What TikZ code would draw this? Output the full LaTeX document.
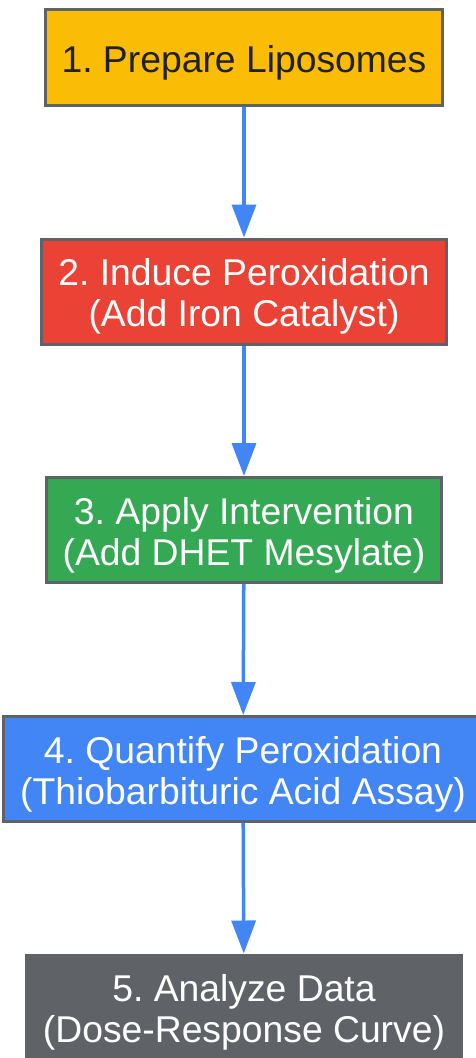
\documentclass[tikz,border=0pt]{standalone}
\usepackage{fontspec}
\setmainfont{Liberation Sans}
\usetikzlibrary{arrows.meta}
\definecolor{stepyellow}{HTML}{FBBC05}
\definecolor{stepred}{HTML}{EA4335}
\definecolor{stepgreen}{HTML}{34A853}
\definecolor{stepblue}{HTML}{4285F4}
\definecolor{stepgray}{HTML}{5F6368}
\definecolor{darktext}{HTML}{202124}
\newcommand{\topstrut}{\rule{0pt}{37.5pt}}
\begin{document}
\frenchspacing
\begin{tikzpicture}[x=1pt,y=1pt,
    stepbox/.style={draw=stepgray, line width=3pt, align=center, inner xsep=16.5pt, inner ysep=0pt,
        font=\fontsize{37.3}{41}\selectfont, text=white, minimum height=105pt},
    flow/.style={draw=stepblue, line width=3.5pt, -{Triangle[length=33pt,width=24pt]}}]
		    	\useasboundingbox (0,0) rectangle (475,-1058);
		    	\node[stepbox, fill=stepyellow, text=darktext, minimum height=96pt] (PA) at (244,-57.5) {\topstrut 1. Prepare Liposomes};
		    	\node[stepbox, fill=stepred] (PB) at (244,-291.5) {\topstrut 2. Induce Peroxidation\\(Add Iron Catalyst)};
		    	\node[stepbox, fill=stepgreen] (PC) at (244,-530) {\topstrut 3. Apply Intervention\\(Add DHET Mesylate)};
		    	\node[stepbox, fill=stepblue] (PD) at (243,-769) {\topstrut 4. Quantify Peroxidation\\(Thiobarbituric Acid Assay)};
		    	\node[stepbox, fill=stepgray] (PE) at (244,-1007.5) {\topstrut 5. Analyze Data\\(Dose-Response Curve)};
		    	
		    	\draw[flow] (PA)--(PB);
		    	\draw[flow] (PB)--(PC);
		    	\draw[flow] (PC)--(PD);
		    	\draw[flow] (PD)--(PE);
		    \end{tikzpicture}
\end{document}
